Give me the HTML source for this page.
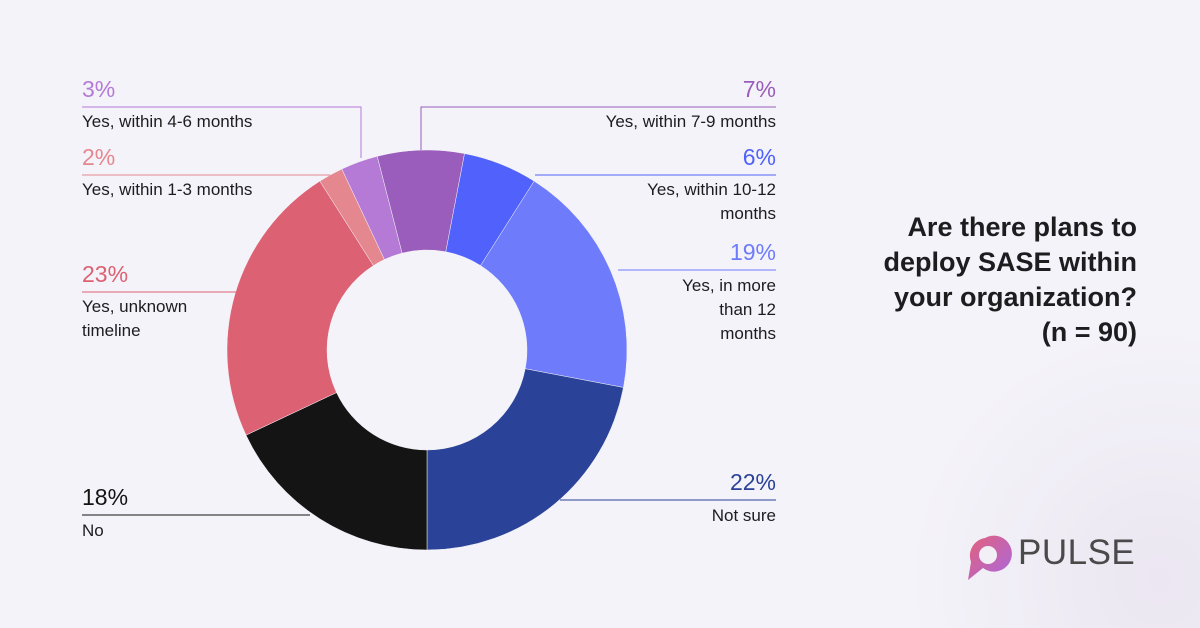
<!DOCTYPE html>
<html><head><meta charset="utf-8"><style>
html,body{margin:0;padding:0;width:1200px;height:628px;overflow:hidden}
body{background:radial-gradient(circle 250px at 1160px 580px,#ebe6f1 0%,#f4f3f9 100%);position:relative;font-family:"Liberation Sans",sans-serif}
.t{position:absolute;font-size:17px;color:#1d1d1f;line-height:24px}
.p{position:absolute;font-size:23px;line-height:26px}
.r{text-align:right}
</style></head><body>
<svg width="1200" height="628" viewBox="0 0 1200 628" style="position:absolute;left:0;top:0;display:block">
<defs><linearGradient id="lg" x1="0" y1="0" x2="1" y2="1"><stop offset="0" stop-color="#e4607a"/><stop offset="1" stop-color="#a869e0"/></linearGradient></defs>
<g id="pie"></g>
<g stroke-width="1" fill="none">
<polyline points="82,107 361,107 361,158" stroke="#b57ad6"/>
<polyline points="82,175 330,175" stroke="#e5878f"/>
<polyline points="776,107 421,107 421,150" stroke="#9a5dbb"/>
<polyline points="776,175 535,175" stroke="#5062fb"/>
<polyline points="776,270 618,270" stroke="#6e7bfb"/>
<polyline points="776,500 560,500" stroke="#2a4297"/>
<polyline points="82,515 310,515" stroke="#141414"/>
<polyline points="82,292 236,292" stroke="#dc6172"/>
</g>
<path d="M985,538 a18,18 0 1 1 -2,30 l-15,12 l3,-18 a18,18 0 0 1 14,-24z" fill="url(#lg)"/>
<circle cx="988" cy="555" r="9" fill="#f2eff7"/>
</svg>
<div class="p" style="left:82px;top:76px;color:#b57ad6">3%</div>
<div class="t" style="left:82px;top:110px">Yes, within 4-6 months</div>
<div class="p" style="left:82px;top:144px;color:#e5878f">2%</div>
<div class="t" style="left:82px;top:178px">Yes, within 1-3 months</div>
<div class="p" style="left:82px;top:261px;color:#dc6172">23%</div>
<div class="t" style="left:82px;top:295px">Yes, unknown<br>timeline</div>
<div class="p" style="left:82px;top:484px;color:#141414">18%</div>
<div class="t" style="left:82px;top:519px">No</div>
<div class="p r" style="right:424px;top:76px;color:#9a5dbb">7%</div>
<div class="t r" style="right:424px;top:110px">Yes, within 7-9 months</div>
<div class="p r" style="right:424px;top:144px;color:#5062fb">6%</div>
<div class="t r" style="right:424px;top:178px">Yes, within 10-12<br>months</div>
<div class="p r" style="right:424px;top:239px;color:#6e7bfb">19%</div>
<div class="t r" style="right:424px;top:274px">Yes, in more<br>than 12<br>months</div>
<div class="p r" style="right:424px;top:469px;color:#2a4297">22%</div>
<div class="t r" style="right:424px;top:504px">Not sure</div>
<div style="position:absolute;right:63px;top:210px;text-align:right;font-size:27px;font-weight:bold;line-height:35px;color:#1d1d1f">Are there plans to<br>deploy SASE within<br>your organization?<br>(n = 90)</div>
<div style="position:absolute;left:1018px;top:534px;font-size:35px;line-height:38px;color:#4a4a4a;letter-spacing:0.5px">PULSE</div>
<script>
var d=[[6,"#5062fb"],[19,"#6e7bfb"],[22,"#2a4297"],[18,"#141414"],[23,"#dc6172"],[2,"#e5878f"],[3,"#b57ad6"],[7,"#9a5dbb"]];
var cx=427,cy=350,R=200,r=100,a=10.8,s="";
function pt(ang,rad){var t=(ang-90)*Math.PI/180;return (cx+rad*Math.cos(t)).toFixed(2)+","+(cy+rad*Math.sin(t)).toFixed(2);}
d.forEach(function(x){var b=a+x[0]*3.6,l=x[0]>50?1:0;
s+='<path fill="'+x[1]+'" stroke="#f4f3f9" stroke-width="0.5" d="M'+pt(a,R)+' A'+R+','+R+' 0 '+l+' 1 '+pt(b,R)+' L'+pt(b,r)+' A'+r+','+r+' 0 '+l+' 0 '+pt(a,r)+'Z"/>';a=b;});
document.getElementById("pie").innerHTML=s;
</script>
</body></html>
